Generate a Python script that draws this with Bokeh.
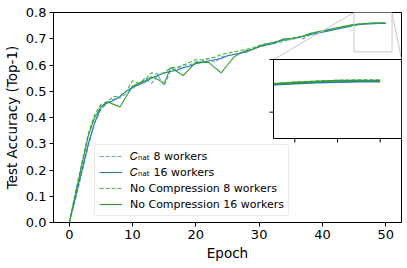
import numpy as np
from bokeh.plotting import figure
from bokeh.models import Range1d, FixedTicker, PrintfTickFormatter, Legend, LegendItem
from bokeh.embed import file_html
from bokeh.resources import INLINE

# ---------------- data ----------------
epochs = list(range(51))

cnat_8 = [0.0, 0.09, 0.19, 0.29, 0.38, 0.43, 0.455, 0.47, 0.475, 0.49,
          0.51, 0.53, 0.55, 0.53, 0.56, 0.52, 0.58, 0.585, 0.60, 0.60,
          0.61, 0.615, 0.625, 0.61, 0.63, 0.635, 0.64, 0.645, 0.655, 0.66,
          0.67, 0.675, 0.68, 0.685, 0.69, 0.70, 0.705, 0.70, 0.715, 0.72,
          0.728, 0.733, 0.738, 0.743, 0.748, 0.752, 0.755, 0.757, 0.758, 0.759,
          0.759]
cnat_16 = [0.0, 0.10, 0.20, 0.30, 0.38, 0.44, 0.455, 0.465, 0.48, 0.50,
           0.515, 0.525, 0.535, 0.55, 0.56, 0.57, 0.575, 0.58, 0.59, 0.595,
           0.605, 0.61, 0.615, 0.62, 0.625, 0.635, 0.64, 0.645, 0.65, 0.66,
           0.67, 0.675, 0.68, 0.69, 0.695, 0.70, 0.705, 0.71, 0.715, 0.72,
           0.725, 0.73, 0.735, 0.74, 0.745, 0.752, 0.754, 0.756, 0.757, 0.758,
           0.758]
nc_8 = [0.0, 0.12, 0.23, 0.34, 0.41, 0.45, 0.46, 0.48, 0.48, 0.50,
        0.54, 0.53, 0.545, 0.57, 0.565, 0.57, 0.59, 0.59, 0.60, 0.61,
        0.62, 0.62, 0.625, 0.63, 0.64, 0.645, 0.65, 0.655, 0.66, 0.665,
        0.675, 0.68, 0.685, 0.69, 0.70, 0.695, 0.705, 0.71, 0.72, 0.725,
        0.73, 0.735, 0.74, 0.745, 0.75, 0.754, 0.757, 0.759, 0.76, 0.761,
        0.761]
nc_16 = [0.0, 0.11, 0.22, 0.33, 0.40, 0.44, 0.46, 0.45, 0.44, 0.48,
         0.52, 0.53, 0.54, 0.555, 0.545, 0.53, 0.59, 0.575, 0.56, 0.585,
         0.61, 0.61, 0.61, 0.59, 0.57, 0.60, 0.63, 0.645, 0.655, 0.66,
         0.67, 0.68, 0.685, 0.69, 0.70, 0.70, 0.705, 0.71, 0.72, 0.725,
         0.73, 0.735, 0.74, 0.745, 0.75, 0.754, 0.756, 0.758, 0.76, 0.76,
         0.76]

series_labels = ["\U0001D436\u2099\u2090\u209C 8 workers",
                 "\U0001D436\u2099\u2090\u209C 16 workers",
                 "No Compression 8 workers",
                 "No Compression 16 workers"]
series_colors = ["#5fa3d8", "#2a78b8", "#4db04a", "#2ca02c"]
series_dash = ["4 2", "solid", "4 2", "solid"]

x_ticks = [0, 10, 20, 30, 40, 50]
y_ticks = [0.0, 0.1, 0.2, 0.3, 0.4, 0.5, 0.6, 0.7, 0.8]

inset_xlim = (45, 51)
inset_ylim = (0.65, 0.80)
inset_xticks = [46, 48, 50]
inset_yticks = [0.7, 0.8]
inset_first_epoch = 45

# ---------------- layout ----------------
W, H = 407, 268
BL, BR, BT, BB = 53, 6, 12, 46
XR = (-2.5, 52.5)
YR = (0.0, 0.8)
frame_w = W - BL - BR
frame_h = H - BT - BB
# inset box in figure pixels (left, right, top, bottom)
IL, IR, IT, IB = 273, W - BR, 59, 138


def px_to_x(px):
    return XR[0] + (px - BL) / frame_w * (XR[1] - XR[0])


def px_to_y(py):
    return YR[1] - (py - BT) / frame_h * (YR[1] - YR[0])


FONT = "DejaVu Sans"

p = figure(width=W, height=H, output_backend="svg", toolbar_location=None,
           x_range=Range1d(*XR), y_range=Range1d(*YR),
           min_border_left=BL, min_border_right=BR,
           min_border_top=BT, min_border_bottom=BB)
p.grid.visible = False
p.outline_line_color = "black"
p.outline_line_width = 1
p.background_fill_color = "white"
p.border_fill_color = "white"

p.xaxis.ticker = FixedTicker(ticks=x_ticks)
p.yaxis.ticker = FixedTicker(ticks=y_ticks)
p.yaxis.formatter = PrintfTickFormatter(format="%.1f")
p.xaxis.axis_label = "Epoch"
p.yaxis.axis_label = "Test Accuracy (Top-1)"
for ax in (p.xaxis, p.yaxis):
    ax.major_label_text_font = FONT
    ax.major_label_text_font_size = "13px"
    ax.major_label_text_color = "black"
    ax.axis_label_text_font = FONT
    ax.axis_label_text_font_size = "13.5px"
    ax.axis_label_text_font_style = "normal"
    ax.axis_label_text_color = "black"
    ax.major_tick_out = 4
    ax.major_tick_in = 0
    ax.minor_tick_out = 0
    ax.minor_tick_in = 0
    ax.axis_line_color = "black"
    ax.major_tick_line_color = "black"
    ax.major_label_standoff = 3
    ax.axis_label_standoff = 3

all_series = [cnat_8, cnat_16, nc_8, nc_16]
renderers = []
for ys, col, dash in zip(all_series, series_colors, series_dash):
    r = p.line(epochs, ys, line_color=col, line_width=1.1, line_dash=dash)
    renderers.append(r)

# zoom indicator rectangle & connectors
tx = (px_to_x(IL), px_to_x(IR))
ty = (px_to_y(IB), px_to_y(IT))
ind_col = "#c8c8c8"
p.quad(left=[inset_xlim[0]], right=[inset_xlim[1]], bottom=[inset_ylim[0]], top=[inset_ylim[1]],
       fill_color=None, line_color=ind_col, line_width=1)
p.segment(x0=[inset_xlim[0], inset_xlim[1]], y0=[inset_ylim[1], inset_ylim[1]],
          x1=[tx[0], tx[1]], y1=[ty[1], ty[1]], line_color=ind_col, line_width=1)

# inset background / frame
p.quad(left=[tx[0]], right=[tx[1]], bottom=[ty[0]], top=[ty[1]],
       fill_color="white", line_color=None)

xy = p.subplot(x_source=Range1d(*inset_xlim), y_source=Range1d(*inset_ylim),
               x_target=Range1d(*tx), y_target=Range1d(*ty))
i0 = epochs.index(inset_first_epoch)
for ys, col, dash in zip(all_series, series_colors, series_dash):
    xy.line(epochs[i0:], ys[i0:], line_color=col, line_width=1.6, line_dash=dash)
# inset ticks
xy.ray(x=inset_xticks, y=[inset_ylim[0]] * len(inset_xticks), length=4, length_units="screen",
       angle=-np.pi / 2, line_color="black", line_width=1)
xy.ray(x=[inset_xlim[0]] * len(inset_yticks), y=inset_yticks, length=4, length_units="screen",
       angle=np.pi, line_color="black", line_width=1)
p.quad(left=[tx[0]], right=[tx[1]], bottom=[ty[0]], top=[ty[1]],
       fill_color=None, line_color="black", line_width=1)

legend = Legend(items=[LegendItem(label=lab, renderers=[r]) for lab, r in zip(series_labels, renderers)],
                location=(41, 6))
legend.label_text_font = FONT
legend.label_text_font_size = "11px"
legend.label_text_color = "black"
legend.glyph_width = 23
legend.glyph_height = 14
legend.label_height = 14
legend.label_standoff = 8
legend.spacing = 2
legend.padding = 4
legend.margin = 0
legend.border_line_color = "#d6d6d6"
legend.border_line_width = 1
legend.background_fill_alpha = 0.8
legend.border_radius = 3
p.add_layout(legend)

open("out.html", "w").write(file_html(p, INLINE))
